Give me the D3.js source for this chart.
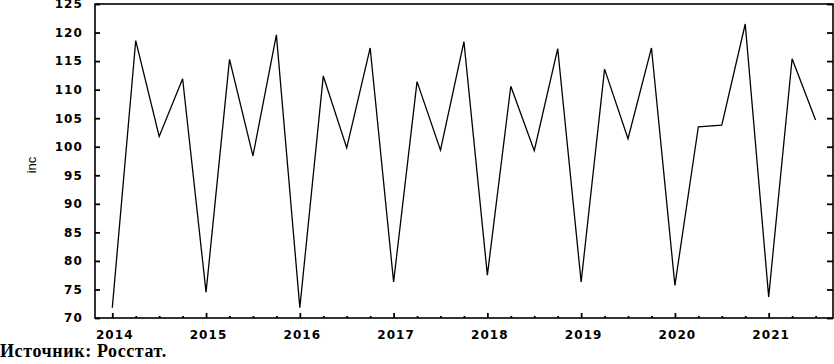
<!DOCTYPE html>
<html>
<head>
<meta charset="utf-8">
<script src="https://cdn.jsdelivr.net/npm/d3@7"></script>
<style>
  html, body { margin: 0; padding: 0; background: #fff; }
  svg { display: block; }
  .tick text { font-family: "DejaVu Sans", sans-serif; font-weight: bold; font-size: 12px; letter-spacing: 1.1px; fill: #000; }
</style>
</head>
<body>
<svg id="chart" width="834" height="364"></svg>
<script>
// Data: quarterly index "inc", 2014 Q1 .. 2021 Q3
const years = [2014, 2015, 2016, 2017, 2018, 2019, 2020, 2021];
const quarters = [0, 0.25, 0.5, 0.75];
const incValues = [
  71.8, 118.6, 101.8, 111.9,
  74.5, 115.3, 98.4, 119.6,
  71.8, 112.4, 99.8, 117.3,
  76.3, 111.4, 99.4, 118.4,
  77.5, 110.6, 99.3, 117.2,
  76.3, 113.6, 101.4, 117.3,
  75.7, 103.5, 103.8, 121.5,
  73.7, 115.4, 104.7
];
const yTicks = [70, 75, 80, 85, 90, 95, 100, 105, 110, 115, 120, 125];
const yLabel = "inc";
const sourceText = "Источник: Росстат.";

const timePoints = [];
years.forEach(yr => quarters.forEach(q => timePoints.push(yr + q)));
const series = incValues.map((v, i) => ({ t: timePoints[i], v }));
const minorTicks = timePoints.filter(t => t % 1 !== 0);

const svg = d3.select("#chart");
const mLeft = 95, mRight = 833, mTop = 4, mBottom = 318;

const x = d3.scaleLinear().domain([2013.8155, 2021.686]).range([mLeft, mRight]);
const y = d3.scaleLinear().domain([70, 125]).range([mBottom, mTop]);

// line
svg.append("path")
  .datum(series)
  .attr("fill", "none")
  .attr("stroke", "#000")
  .attr("stroke-width", 1.3)
  .attr("stroke-linejoin", "miter")
  .attr("d", d3.line().x(d => x(d.t)).y(d => y(d.v)));

// frame
svg.append("rect")
  .attr("x", mLeft).attr("y", mTop)
  .attr("width", mRight - mLeft).attr("height", mBottom - mTop)
  .attr("fill", "none").attr("stroke", "#000").attr("stroke-width", 1.6);

// left axis
const gl = svg.append("g").attr("transform", `translate(${mLeft},0)`)
  .call(d3.axisLeft(y).tickValues(yTicks).tickSize(-5).tickPadding(12).tickFormat(d3.format("d")));
gl.select(".domain").remove();
gl.selectAll(".tick line").attr("stroke-width", 1.8);

// right axis
const gr = svg.append("g").attr("transform", `translate(${mRight},0)`)
  .call(d3.axisRight(y).tickValues(yTicks).tickSize(-6).tickFormat(""));
gr.select(".domain").remove();
gr.selectAll(".tick line").attr("stroke-width", 1.8);

// bottom axis major
const gb = svg.append("g").attr("transform", `translate(0,${mBottom})`)
  .call(d3.axisBottom(x).tickValues(years).tickSize(-5).tickPadding(12).tickFormat(d3.format("d")));
gb.select(".domain").remove();
gb.selectAll(".tick line").attr("stroke-width", 1.8);
gb.selectAll(".tick text").attr("dx", "2px");

// bottom axis minor
const gm = svg.append("g").attr("transform", `translate(0,${mBottom})`)
  .call(d3.axisBottom(x).tickValues(minorTicks).tickSize(-2).tickFormat(""));
gm.select(".domain").remove();
gm.selectAll(".tick line").attr("stroke-width", 1.8);

// y label
svg.append("text")
  .attr("transform", `translate(36,${(mTop + mBottom) / 2 + 4}) rotate(-90)`)
  .attr("text-anchor", "middle")
  .attr("font-family", "Liberation Sans, Arial, sans-serif")
  .attr("font-size", 13)
  .text(yLabel);

// source
svg.append("text")
  .attr("x", 0).attr("y", 357)
  .attr("font-family", "Liberation Serif, Times New Roman, serif")
  .attr("font-weight", "bold")
  .attr("font-size", 18)
  .attr("letter-spacing", "0.6px")
  .text(sourceText);
</script>
</body>
</html>
